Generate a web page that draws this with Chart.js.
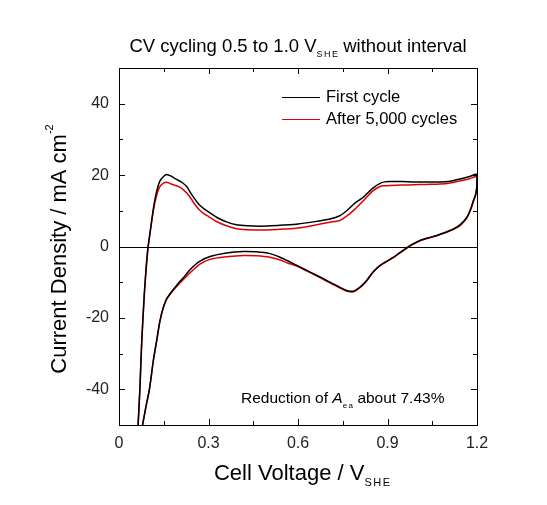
<!DOCTYPE html>
<html>
<head>
<meta charset="utf-8">
<script src="https://cdn.jsdelivr.net/npm/chart.js@4/dist/chart.umd.min.js"></script>
<style>
  body { margin: 0; background: #fff; }
  #wrap { width: 547px; height: 505px; position: relative; }
</style>
</head>
<body>
<div id="wrap"><canvas id="cv"></canvas></div>
<script>
// potential sweep (V vs SHE): forward scan, then back scan
const voltage = [
  0.064, 0.070, 0.076, 0.085, 0.096, 0.105, 0.115, 0.125, 0.137, 0.150,
  0.160, 0.175, 0.193, 0.210, 0.227, 0.240, 0.255, 0.270, 0.283, 0.300,
  0.327, 0.360, 0.394, 0.430, 0.473, 0.510, 0.551, 0.600, 0.651, 0.707,
  0.740, 0.763, 0.790, 0.819, 0.850, 0.875, 0.890, 0.908, 0.950, 0.987,
  1.030, 1.076, 1.110, 1.143, 1.175, 1.199,
  1.199, 1.195, 1.188, 1.180, 1.166, 1.145, 1.121, 1.095, 1.065, 1.035,
  1.009, 0.985, 0.964, 0.940, 0.920, 0.900, 0.875, 0.850, 0.830, 0.810,
  0.786, 0.763, 0.735, 0.707, 0.680, 0.651, 0.620, 0.596, 0.565, 0.540,
  0.506, 0.460, 0.417, 0.360, 0.305, 0.270, 0.238, 0.215, 0.193, 0.175,
  0.160, 0.148, 0.137, 0.126, 0.115, 0.102, 0.090, 0.079
];

// current density (mA cm-2)
const firstCycle = [
  -50, -40, -27, -13, -1, 4.5, 10.5, 15.0, 18.3, 19.7,
  20.2, 19.7, 18.8, 18.0, 16.8, 15.0, 13.2, 11.6, 10.7, 9.7,
  8.2, 6.9, 6.1, 5.8, 5.7, 5.8, 6.0, 6.3, 6.9, 7.7,
  8.6, 10.0, 12.1, 13.8, 16.3, 17.7, 18.1, 18.2, 18.2, 18.1,
  18.1, 18.1, 18.3, 18.9, 19.6, 20.2,
  16.6, 14.5, 12.9, 10.8, 8.2, 6.2, 4.9, 4.0, 3.1, 2.4,
  1.7, 0.7, -0.4, -1.8, -3.0, -4.0, -5.3, -7.3, -9.5, -11.2,
  -12.5, -12.3, -11.2, -10.0, -8.8, -7.6, -6.3, -5.3, -4.0, -3.0,
  -2.0, -1.5, -1.4, -1.8, -2.8, -4.2, -6.5, -8.8, -10.9, -12.8,
  -14.6, -17.2, -21.0, -26.5, -32, -40, -45, -50
];

const after5000 = [
  -50, -40, -27, -13.5, -1.5, 4.2, 10.0, 14.0, 16.8, 17.8,
  18.0, 17.5, 17.0, 16.3, 15.0, 13.6, 11.7, 10.2, 9.3, 8.4,
  7.0, 5.8, 5.0, 4.7, 4.6, 4.7, 4.9, 5.2, 5.9, 6.8,
  7.3, 8.5, 10.4, 12.8, 15.5, 16.8, 17.0, 17.1, 17.2, 17.3,
  17.4, 17.5, 17.8, 18.4, 19.0, 19.6,
  16.2, 14.2, 12.7, 10.6, 8.0, 6.0, 4.8, 3.9, 3.0, 2.3,
  1.6, 0.6, -0.5, -1.9, -3.1, -4.1, -5.4, -7.4, -9.7, -11.4,
  -12.7, -12.5, -11.4, -10.2, -9.0, -7.7, -6.5, -5.5, -4.6, -3.8,
  -3.0, -2.6, -2.5, -2.9, -3.6, -5.0, -7.4, -9.3, -11.2, -13.0,
  -14.7, -17.3, -21.0, -26.5, -32, -40, -45, -50
];

const seriesLabels = ["First cycle", "After 5,000 cycles"];
const xTicks = [0, 0.3, 0.6, 0.9, 1.2];
const yTicks = [-40, -20, 0, 20, 40];
const xMinorTicks = [0.15, 0.45, 0.75, 1.05];
const yMinorTicks = [-30, -10, 10, 30];

const titleParts = [["CV cycling 0.5 to 1.0 V", 0], ["SHE", 1], [" without interval", 0]];
const xTitleParts = [["Cell Voltage / V", 0], ["SHE", 1]];
const yTitleParts = [["Current Density / mA cm", 0], ["-2", -1]];
const noteParts = [["Reduction of ", 0], ["A", 2], ["ea", 1], [" about 7.43%", 0]];

const FONT = "'Liberation Sans', Arial, sans-serif";

function toPoints(ys) {
  return voltage.map((v, i) => ({ x: v, y: ys[i] }));
}

// text with sub/superscripts: kind 0 normal, 1 subscript, -1 superscript, 2 italic
function drawParts(ctx, parts, x, y, size, align) {
  const pieces = parts.map(([t, kind]) => {
    let f, dy = 0, spacing = 0;
    if (kind === 1) { f = Math.round(size * 0.5) + "px " + FONT; dy = size * 0.42; spacing = 1.5; }
    else if (kind === -1) { f = Math.round(size * 0.5) + "px " + FONT; dy = -size * 0.45; }
    else if (kind === 2) { f = "italic " + size + "px " + FONT; }
    else { f = size + "px " + FONT; }
    ctx.font = f;
    let w = ctx.measureText(t).width + spacing * (t.length - 1);
    return { t, f, dy, w, spacing };
  });
  const total = pieces.reduce((s, p) => s + p.w, 0);
  let cx = align === "center" ? x - total / 2 : x;
  ctx.textBaseline = "middle";
  ctx.textAlign = "left";
  pieces.forEach(p => {
    ctx.font = p.f;
    if (p.spacing) {
      let px = cx;
      for (const ch of p.t) {
        ctx.fillText(ch, px, y + p.dy);
        px += ctx.measureText(ch).width + p.spacing;
      }
    } else {
      ctx.fillText(p.t, cx, y + p.dy);
    }
    cx += p.w;
  });
}

const decor = {
  id: "decor",
  beforeDatasetsDraw(chart) {
    const { ctx, chartArea: a, scales } = chart;
    const y0 = scales.y.getPixelForValue(0);
    ctx.save();
    ctx.strokeStyle = "#000";
    ctx.lineWidth = 1;
    ctx.beginPath();
    ctx.moveTo(a.left, Math.round(y0) + 0.5);
    ctx.lineTo(a.right, Math.round(y0) + 0.5);
    ctx.stroke();
    ctx.restore();
  },
  afterDraw(chart) {
    const { ctx, chartArea: a, scales } = chart;
    const xs = scales.x, ys = scales.y;
    ctx.save();
    ctx.strokeStyle = "#000";
    ctx.lineWidth = 1;
    ctx.strokeRect(Math.round(a.left) + 0.5, Math.round(a.top) + 0.5,
      Math.round(a.right - a.left), Math.round(a.bottom - a.top));

    // inward ticks on all four sides
    const tick = (vals, len) => {
      ctx.beginPath();
      vals.forEach(v => {
        const px = Math.round(xs.getPixelForValue(v)) + 0.5;
        ctx.moveTo(px, a.bottom); ctx.lineTo(px, a.bottom - len);
        ctx.moveTo(px, a.top); ctx.lineTo(px, a.top + len);
      });
      ctx.stroke();
    };
    const tickY = (vals, len) => {
      ctx.beginPath();
      vals.forEach(v => {
        const py = Math.round(ys.getPixelForValue(v)) + 0.5;
        ctx.moveTo(a.left, py); ctx.lineTo(a.left + len, py);
        ctx.moveTo(a.right, py); ctx.lineTo(a.right - len, py);
      });
      ctx.stroke();
    };
    tick(xTicks, 6); tick(xMinorTicks, 4);
    tickY(yTicks, 6); tickY(yMinorTicks, 4);

    ctx.fillStyle = "#000";
    drawParts(ctx, titleParts, 298, 47, 18.5, "center");
    drawParts(ctx, xTitleParts, 302, 474, 22, "center");
    drawParts(ctx, noteParts, 241, 399, 15.5, "left");

    ctx.save();
    ctx.translate(60, 249);
    ctx.rotate(-Math.PI / 2);
    drawParts(ctx, yTitleParts, 0, 0, 22, "center");
    ctx.restore();

    // legend
    chart.data.datasets.forEach((ds, i) => {
      const ly = 97 + i * 22;
      ctx.strokeStyle = ds.borderColor;
      ctx.lineWidth = 1;
      ctx.beginPath();
      ctx.moveTo(282, ly + 0.5); ctx.lineTo(320, ly + 0.5);
      ctx.stroke();
      ctx.fillStyle = "#000";
      ctx.font = "16.5px " + FONT;
      ctx.textBaseline = "middle";
      ctx.fillText(ds.label, 326, ly);
    });
    ctx.restore();
  }
};

new Chart(document.getElementById("cv"), {
  type: "scatter",
  data: {
    datasets: [
      {
        label: seriesLabels[0],
        data: toPoints(firstCycle),
        showLine: true,
        borderColor: "#000000",
        borderWidth: 1.5,
        pointRadius: 0,
        tension: 0.2,
      },
      {
        label: seriesLabels[1],
        data: toPoints(after5000),
        showLine: true,
        borderColor: "#e00000",
        borderWidth: 1.5,
        pointRadius: 0,
        tension: 0.2,
      },
    ],
  },
  options: {
    responsive: true,
    maintainAspectRatio: false,
    animation: false,
    layout: { padding: { left: 0, right: 70, top: 68, bottom: 0 } },
    plugins: {
      legend: { display: false },
      tooltip: { enabled: false },
    },
    scales: {
      x: {
        type: "linear",
        min: 0,
        max: 1.2,
        afterBuildTicks: s => { s.ticks = xTicks.map(v => ({ value: v })); },
        afterFit: s => { s.height = 80; },
        grid: { display: false, drawTicks: false },
        border: { display: false },
        ticks: {
          padding: 9,
          color: "#222",
          font: { family: FONT, size: 16 },
          callback: v => String(v),
        },
      },
      y: {
        type: "linear",
        min: -50,
        max: 50,
        afterBuildTicks: s => { s.ticks = yTicks.map(v => ({ value: v })); },
        afterFit: s => { s.width = 119; },
        grid: { display: false, drawTicks: false },
        border: { display: false },
        ticks: {
          padding: 10,
          color: "#222",
          font: { family: FONT, size: 16 },
        },
      },
    },
  },
  plugins: [decor],
});
</script>
</body>
</html>
